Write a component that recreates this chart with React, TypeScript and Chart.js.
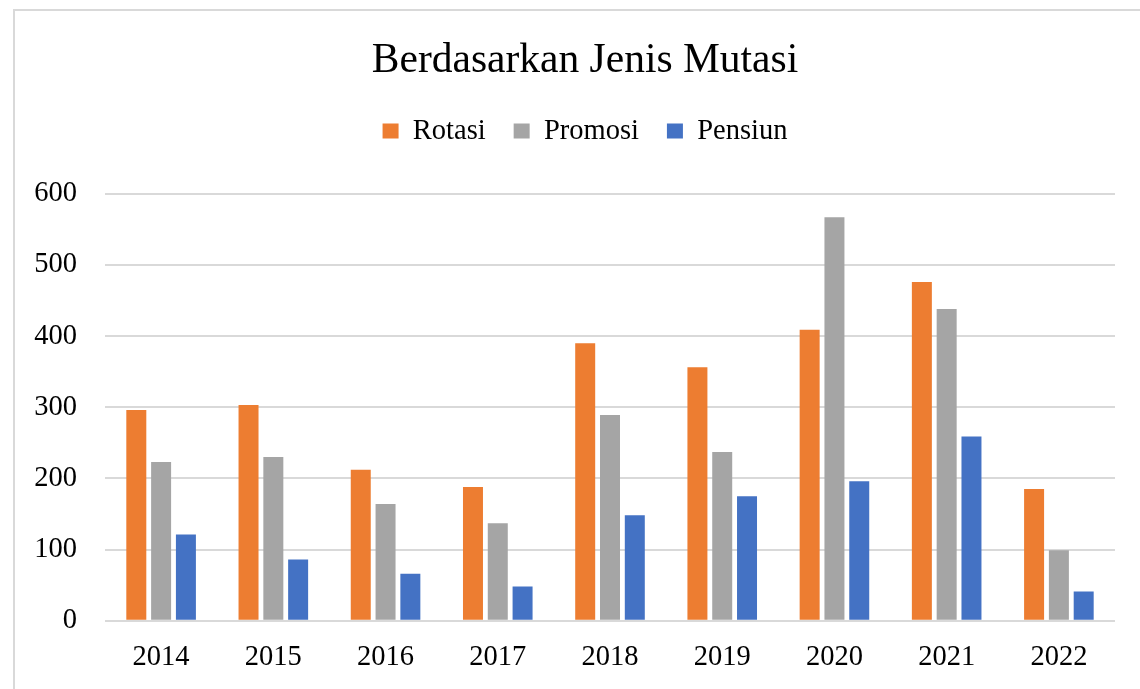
import React, { useEffect, useRef } from "react";
import { Chart, registerables } from "chart.js";

Chart.register(...registerables);

const categories = ["2014", "2015", "2016", "2017", "2018", "2019", "2020", "2021", "2022"];
const rotasi = [296, 303, 212, 188, 390, 356, 409, 476, 185];
const promosi = [223, 230, 164, 137, 289, 237, 567, 438, 99];
const pensiun = [121, 86, 66, 48, 148, 175, 196, 259, 41];
const seriesNames = ["Rotasi", "Promosi", "Pensiun"];
const seriesColors = ["#ED7D31", "#A5A5A5", "#4472C4"];
const yTicks = [0, 100, 200, 300, 400, 500, 600];
const titleText = "Berdasarkan Jenis Mutasi";

const FONT = "'Liberation Serif', 'DejaVu Serif', serif";
const HEADER_SHIFT = 27.5;

const headerLayout = {
  id: "headerLayout",
  afterInit(chart: any) {
    const legend = chart.legend;
    if (!legend || legend.__wrapped) return;
    const orig = legend.fit.bind(legend);
    legend.fit = function () {
      orig();
      this.height += 38.4;
    };
    legend.__wrapped = true;
  },
  afterLayout(chart: any) {
    const boxes = [chart.titleBlock, chart.legend];
    boxes.forEach((b: any) => {
      if (b) {
        b.left += HEADER_SHIFT;
        b.right += HEADER_SHIFT;
      }
    });
  },
};

export default function App() {
  const ref = useRef<HTMLCanvasElement | null>(null);

  useEffect(() => {
    if (!ref.current) return;
    const values = [rotasi, promosi, pensiun];
    const chart = new Chart(ref.current, {
      type: "bar",
      data: {
        labels: categories,
        datasets: seriesNames.map((name, i) => ({
          label: name,
          data: values[i],
          backgroundColor: seriesColors[i],
          borderWidth: 0,
          categoryPercentage: 0.663,
          barPercentage: 0.806,
        })),
      },
      plugins: [headerLayout],
      options: {
        responsive: false,
        animation: false,
        layout: { padding: { top: 10, right: 25, left: 0, bottom: 0 } },
        plugins: {
          title: {
            display: true,
            text: titleText,
            color: "#000000",
            font: { family: FONT, size: 41.5, weight: "normal" },
            padding: { top: 26, bottom: 3 },
          },
          legend: {
            display: true,
            position: "top",
            labels: {
              color: "#000000",
              font: { family: FONT, size: 28.5 },
              boxWidth: 16,
              boxHeight: 15,
              padding: 28,
            },
          },
          tooltip: { enabled: false },
        },
        scales: {
          x: {
            grid: { display: false, drawTicks: false },
            border: { display: false },
            ticks: {
              color: "#000000",
              font: { family: FONT, size: 28.5 },
              padding: 20,
            },
            afterFit: (scale: any) => {
              scale.height = 68.3;
            },
          },
          y: {
            min: 0,
            max: 600,
            afterBuildTicks: (scale: any) => {
              scale.ticks = yTicks.map((v) => ({ value: v }));
            },
            grid: { color: "#D9D9D9", lineWidth: 2, drawTicks: false },
            border: { display: false },
            ticks: {
              color: "#000000",
              font: { family: FONT, size: 28.5 },
              padding: 28,
            },
            afterFit: (scale: any) => {
              scale.width = 105;
            },
          },
        },
      },
    });
    return () => chart.destroy();
  }, []);

  return (
    <div style={{ position: "fixed", left: 0, top: 0, width: 1140, height: 689, background: "#ffffff" }}>
      <div
        style={{
          position: "absolute",
          left: 13,
          top: 9,
          width: 1140,
          height: 700,
          borderLeft: "2px solid #D9D9D9",
          borderTop: "2px solid #D9D9D9",
        }}
      />
      <canvas ref={ref} width={1140} height={689} style={{ position: "absolute", left: 0, top: 0 }} />
    </div>
  );
}
